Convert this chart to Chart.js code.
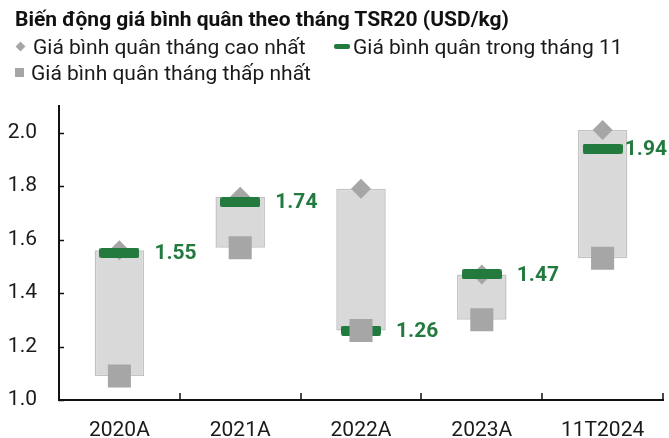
<!DOCTYPE html>
<html>
<head>
<meta charset="utf-8">
<script src="https://cdn.jsdelivr.net/npm/chart.js@4.4.1/dist/chart.umd.min.js"></script>
<style>
  body { margin: 0; background: #fff; font-family: Roboto, sans-serif; color: #1a1a1a; }
  #wrap { position: relative; width: 669px; height: 438px; }
  #myChart { position: absolute; left: 0; top: 0; }
  .title { position: absolute; left: 15px; top: 7px; font-weight: bold; font-size: 21px; white-space: nowrap; color: #111; }
  .leg { position: absolute; font-size: 21px; white-space: nowrap; line-height: 24px; }
  .mk { display: inline-block; vertical-align: middle; margin-right: 7px; position: relative; top: -2px; }
  .mk.dia { width: 7px; height: 7px; background: #a6a6a6; transform: rotate(45deg); margin-left: 2px; margin-right: 9px; }
  .mk.dash { width: 16px; height: 5px; background: #237a3f; border-radius: 2px; margin-right: 3px; }
  .mk.sq { width: 9px; height: 9px; background: #a6a6a6; }
</style>
</head>
<body>
<div id="wrap">
  <canvas id="myChart" width="669" height="438"></canvas>
  <div class="title">Biến động giá bình quân theo tháng TSR20 (USD/kg)</div>
  <div class="leg" style="left:15px; top:35px;"><span class="mk dia"></span>Giá bình quân tháng cao nhất</div>
  <div class="leg" style="left:334px; top:35px;"><span class="mk dash"></span>Giá bình quân trong tháng 11</div>
  <div class="leg" style="left:15px; top:61px;"><span class="mk sq"></span>Giá bình quân tháng thấp nhất</div>
</div>
<script>
// dữ liệu
const categories = ['2020A', '2021A', '2022A', '2023A', '11T2024'];
const highPrice = [1.56, 1.76, 1.79, 1.47, 2.01];
const novPrice = [1.55, 1.74, 1.26, 1.47, 1.94];
const lowPrice = [1.09, 1.57, 1.26, 1.30, 1.53];
const yTicks = [1.0, 1.2, 1.4, 1.6, 1.8, 2.0];

const green = '#237a3f';
const grayMark = '#a6a6a6';

// thanh xanh (ký hiệu tháng 11)
const dash = document.createElement('canvas');
dash.width = 40;
dash.height = 10;
const dctx = dash.getContext('2d');
dctx.fillStyle = green;
dctx.beginPath();
dctx.roundRect(0, 0, 40, 10, 2);
dctx.fill();

// nhãn giá trị bên phải thanh xanh
const valueLabels = {
  id: 'valueLabels',
  afterDatasetsDraw(chart) {
    const meta = chart.getDatasetMeta(1);
    const ctx = chart.ctx;
    ctx.save();
    ctx.fillStyle = green;
    ctx.font = 'bold 21px Roboto';
    ctx.textAlign = 'left';
    ctx.textBaseline = 'middle';
    meta.data.forEach((pt, i) => {
      const txt = novPrice[i].toFixed(2);
      const w = ctx.measureText(txt).width;
      const x = Math.min(pt.x + 35, chart.width - w - 2);
      ctx.fillText(txt, x, pt.y + 1);
    });
    ctx.restore();
  }
};

// vạch chia hướng vào trong
const innerTicks = {
  id: 'innerTicks',
  afterDraw(chart) {
    const { ctx, chartArea, scales } = chart;
    const x = scales.x, y = scales.y;
    ctx.save();
    ctx.strokeStyle = '#111';
    ctx.lineWidth = 1.5;
    ctx.beginPath();
    y.ticks.forEach(t => {
      const py = Math.round(y.getPixelForValue(t.value)) + 0.5;
      ctx.moveTo(chartArea.left, py);
      ctx.lineTo(chartArea.left + 5, py);
    });
    const half = (x.getPixelForValue(1) - x.getPixelForValue(0)) / 2;
    for (let i = 1; i <= categories.length; i++) {
      const px = Math.round(x.getPixelForValue(i - 1) + half);
      ctx.moveTo(px, chartArea.bottom);
      ctx.lineTo(px, chartArea.bottom - 7);
    }
    ctx.stroke();
    ctx.restore();
  }
};

const ctx = document.getElementById('myChart').getContext('2d');
new Chart(ctx, {
  type: 'bar',
  data: {
    labels: categories,
    datasets: [
      {
        type: 'line',
        label: 'Giá bình quân tháng thấp nhất',
        data: lowPrice,
        showLine: false,
        pointStyle: 'rect',
        pointRadius: 16.3,
        pointHoverRadius: 16.3,
        pointBackgroundColor: grayMark,
        pointBorderWidth: 0,
        order: 0
      },
      {
        type: 'line',
        label: 'Giá bình quân trong tháng 11',
        data: novPrice,
        showLine: false,
        pointStyle: dash,
        order: 1
      },
      {
        type: 'line',
        label: 'Giá bình quân tháng cao nhất',
        data: highPrice,
        showLine: false,
        pointStyle: 'rectRot',
        pointRadius: 10,
        pointHoverRadius: 10,
        pointBackgroundColor: grayMark,
        pointBorderWidth: 0,
        order: 2
      },
      {
        label: 'range',
        data: lowPrice.map((v, i) => [v, highPrice[i]]),
        backgroundColor: '#d9d9d9',
        borderColor: '#c3c3c3',
        borderWidth: 1.5,
        borderSkipped: false,
        barPercentage: 0.41,
        categoryPercentage: 1,
        order: 3
      }
    ]
  },
  options: {
    responsive: false,
    animation: false,
    layout: { autoPadding: false, padding: { top: 106, left: 0, right: 6, bottom: 0 } },
    plugins: {
      legend: { display: false },
      tooltip: { enabled: false }
    },
    scales: {
      x: {
        offset: true,
        grid: { display: false },
        border: { display: true, color: '#111', width: 2 },
        ticks: { color: '#1a1a1a', font: { family: 'Roboto', size: 21 }, padding: 10 },
        afterFit(scale) { scale.height = 38; scale.paddingLeft = 0; scale.paddingRight = 0; }
      },
      y: {
        min: 1.0,
        max: 2.1,
        afterBuildTicks(scale) { scale.ticks = yTicks.map(v => ({ value: v })); },
        grid: { display: false },
        border: { display: true, color: '#111', width: 2 },
        ticks: {
          color: '#1a1a1a',
          font: { family: 'Roboto', size: 21 },
          padding: 14,
          callback: v => v.toFixed(1)
        },
        afterFit(scale) { scale.width = 59; }
      }
    }
  },
  plugins: [valueLabels, innerTicks]
});
</script>
</body>
</html>
